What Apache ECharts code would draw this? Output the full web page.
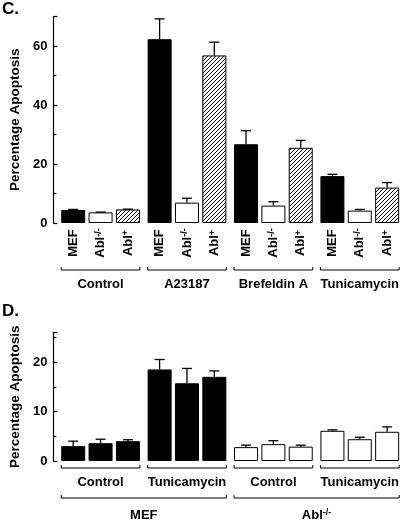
<!DOCTYPE html>
<html><head><meta charset="utf-8">
<script src="https://cdn.jsdelivr.net/npm/echarts@6/dist/echarts.min.js"></script>
<style>html,body{margin:0;padding:0;background:#fff}#c{width:405px;height:525px}</style>
</head><body><div id="c"></div>
<script>
// ---------- Panel C data ----------
const groupsC = ['Control', 'A23187', 'Brefeldin A', 'Tunicamycin'];
const cellLinesC = ['MEF', 'Abl-/-', 'Abl+'];
const mefC = [4.4, 62.3, 26.7, 15.9];
const mefErrC = [0.2, 6.9, 4.6, 0.6];
const ablKoC = [3.6, 6.9, 5.9, 4.2];
const ablKoErrC = [0.1, 1.5, 1.3, 0.4];
const ablPlusC = [4.6, 56.8, 25.5, 12.0];
const ablPlusErrC = [0.1, 4.5, 2.5, 1.7];
const yTicksC = [0, 20, 40, 60];

// ---------- Panel D data ----------
const groupsD = ['Control', 'Tunicamycin', 'Control', 'Tunicamycin'];
const groupCellD = ['MEF', 'MEF', 'Abl-/-', 'Abl-/-'];
const cellLinesD = ['MEF', 'Abl-/-'];
const cellSpanD = [[0, 1], [2, 3]];
const rep1D = [3.0, 18.5, 2.8, 6.1];
const rep1ErrD = [1.0, 2.0, 0.4, 0.2];
const rep2D = [3.6, 15.7, 3.4, 4.4];
const rep2ErrD = [0.8, 3.0, 0.7, 0.4];
const rep3D = [4.0, 17.0, 2.9, 5.9];
const rep3ErrD = [0.3, 1.2, 0.3, 1.0];
const yTicksD = [0, 10, 20];

// ---------- styling ----------
const FONT = '"Liberation Sans", Arial, Helvetica, sans-serif';
const BAR_W = 24;
const GAP = 0.14;
const INK = '#000';

function hatchCanvas() {
  const s = 4;
  const c = document.createElement('canvas');
  c.width = s; c.height = s;
  const g = c.getContext('2d');
  g.fillStyle = '#fff'; g.fillRect(0, 0, s, s);
  g.strokeStyle = '#000'; g.lineWidth = 1;
  g.beginPath();
  g.moveTo(-1, s + 1); g.lineTo(s + 1, -1);
  g.moveTo(-1, 1); g.lineTo(1, -1);
  g.moveTo(s - 1, s + 1); g.lineTo(s + 1, s - 1);
  g.stroke();
  return c;
}
const HATCH = { image: hatchCanvas(), repeat: 'repeat' };

function richOf(name) {
  if (name.startsWith('Abl') && name.length > 3) return '{b|Abl}{s|' + name.slice(3) + '}';
  return '{b|' + name + '}';
}
const RICH = {
  b: { fontSize: 13, fontWeight: 'bold', fontFamily: FONT, fill: INK, color: INK },
  s: { fontSize: 9, fontWeight: 'bold', fontFamily: FONT, fill: INK, color: INK, verticalAlign: 'top' }
};

function barOffset(k, n) { return (k - (n - 1) / 2) * BAR_W * (1 + GAP); }
function groupHalf(n) { return (n * BAR_W + (n - 1) * BAR_W * GAP) / 2; }

function barSeries(gi, vals, colorOf) {
  return {
    type: 'bar', xAxisIndex: gi, yAxisIndex: gi, barWidth: BAR_W, barGap: (GAP * 100) + '%',
    data: vals.map((v, i) => ({ value: v, itemStyle: { color: colorOf(i) } })),
    itemStyle: { borderColor: INK, borderWidth: 1 }, silent: true
  };
}

function errSeries(gi, vals, errs, k, n) {
  return {
    type: 'custom', xAxisIndex: gi, yAxisIndex: gi, clip: false, silent: true, z: 3,
    encode: { x: 0, y: 1 },
    data: vals.map((v, i) => [i, v, v + errs[i]]),
    renderItem: (p, api) => {
      const i = api.value(0);
      const b = api.coord([i, api.value(1)]);
      const t = api.coord([i, api.value(2)]);
      const x = b[0] + barOffset(k, n);
      return { type: 'group', children: [
        { type: 'line', shape: { x1: x, y1: b[1], x2: x, y2: t[1] }, style: { stroke: INK, lineWidth: 1.3 } },
        { type: 'line', shape: { x1: x - 5, y1: t[1], x2: x + 5, y2: t[1] }, style: { stroke: INK, lineWidth: 1.3 } }
      ]};
    }
  };
}

function barLabelSeries(gi, groups, names, dy) {
  const data = [];
  groups.forEach((g, i) => names.forEach((nm, k) => data.push([i, 0, k])));
  return {
    type: 'custom', xAxisIndex: gi, yAxisIndex: gi, clip: false, silent: true,
    encode: { x: 0, y: 1 }, data,
    renderItem: (p, api) => {
      const i = api.value(0), k = api.value(2);
      const z = api.coord([i, 0]);
      return { type: 'text', x: z[0] + barOffset(k, names.length), y: z[1] + dy, rotation: Math.PI / 2,
        style: { text: richOf(names[k]), rich: RICH, align: 'center', verticalAlign: 'middle' } };
    }
  };
}

function bracketSeries(gi, spans, labels, n, dy, ldy) {
  return {
    type: 'custom', xAxisIndex: gi, yAxisIndex: gi, clip: false, silent: true,
    encode: { x: 0, y: 1 },
    data: spans.map((s, j) => [s[0], 0, s[1], j]),
    renderItem: (p, api) => {
      const a = api.coord([api.value(0), 0]);
      const c = api.coord([api.value(2), 0]);
      const j = api.value(3);
      const x0 = a[0] - groupHalf(n), x1 = c[0] + groupHalf(n);
      const y = a[1] + dy;
      return { type: 'group', children: [
        { type: 'polyline', shape: { points: [[x0, y - 3], [x0, y], [x1, y], [x1, y - 3]] },
          style: { stroke: INK, lineWidth: 1, fill: null } },
        { type: 'text', x: (x0 + x1) / 2, y: a[1] + ldy,
          style: { text: richOf(labels[j]), rich: RICH, align: 'center', verticalAlign: 'middle' } }
      ]};
    }
  };
}

function yAxis(gi, max, interval, ticks) {
  return {
    gridIndex: gi, type: 'value', min: 0, max: max, interval: interval, offset: 4,
    axisLine: { show: true, lineStyle: { color: INK, width: 1.2 } },
    axisTick: { show: true, inside: true, length: 4, lineStyle: { color: INK, width: 1.2 } },
    minorTick: { show: true, splitNumber: 2, length: 3, lineStyle: { color: INK, width: 1.2 } },
    splitLine: { show: false },
    axisLabel: { formatter: v => ticks.includes(v) ? String(v) : '', color: INK, fontWeight: 'bold',
      fontSize: 13, fontFamily: FONT, margin: 6 },
    name: 'Percentage Apoptosis', nameLocation: 'middle', nameGap: 31,
    nameTextStyle: { color: INK, fontWeight: 'bold', fontSize: 13.5, fontFamily: FONT }
  };
}

const chart = echarts.init(document.getElementById('c'), null, { renderer: 'canvas' });
const idx = groupsC.map((g, i) => i);
chart.setOption({
  animation: false,
  backgroundColor: '#fff',
  title: [
    { text: 'C.', left: 2, top: 1, padding: 0, textStyle: { fontSize: 17, fontWeight: 'bold', fontFamily: FONT, color: INK } },
    { text: 'D.', left: 2, top: 303, padding: 0, textStyle: { fontSize: 17, fontWeight: 'bold', fontFamily: FONT, color: INK } }
  ],
  grid: [
    { left: 46.5, width: 356.5, top: 16.5, height: 206.5 },
    { left: 46.5, width: 356.5, top: 332.3, height: 128.7 }
  ],
  xAxis: [
    { gridIndex: 0, type: 'category', data: groupsC, show: false },
    { gridIndex: 1, type: 'category', data: groupsD, show: false }
  ],
  yAxis: [ yAxis(0, 70, 20, yTicksC), yAxis(1, 26, 10, yTicksD) ],
  series: [
    barSeries(0, mefC, () => '#000'),
    barSeries(0, ablKoC, () => '#fff'),
    barSeries(0, ablPlusC, () => HATCH),
    errSeries(0, mefC, mefErrC, 0, 3),
    errSeries(0, ablKoC, ablKoErrC, 1, 3),
    errSeries(0, ablPlusC, ablPlusErrC, 2, 3),
    barLabelSeries(0, groupsC, cellLinesC, 20),
    bracketSeries(0, idx.map(i => [i, i]), groupsC, 3, 47, 61),

    barSeries(1, rep1D, i => groupCellD[i] === 'MEF' ? '#000' : '#fff'),
    barSeries(1, rep2D, i => groupCellD[i] === 'MEF' ? '#000' : '#fff'),
    barSeries(1, rep3D, i => groupCellD[i] === 'MEF' ? '#000' : '#fff'),
    errSeries(1, rep1D, rep1ErrD, 0, 3),
    errSeries(1, rep2D, rep2ErrD, 1, 3),
    errSeries(1, rep3D, rep3ErrD, 2, 3),
    bracketSeries(1, idx.map(i => [i, i]), groupsD, 3, 7, 21),
    bracketSeries(1, cellSpanD, cellLinesD, 3, 37, 54)
  ]
});
</script></body></html>
